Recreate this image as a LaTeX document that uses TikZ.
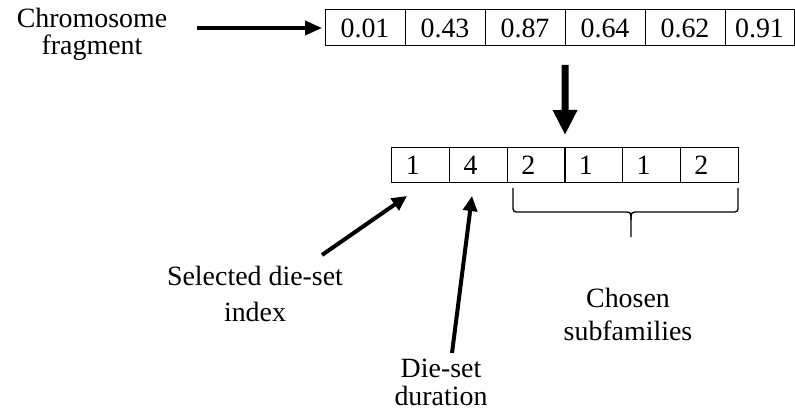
\documentclass[tikz,border=0pt]{standalone}
\usepackage{fontspec}
\setmainfont{Liberation Serif}
\usetikzlibrary{arrows.meta}
\begin{document}
\begin{tikzpicture}[x=1bp,y=1bp,
	cell/.style={draw,line width=1bp,minimum width=80bp,minimum height=36bp,inner sep=0pt,outer sep=0pt,font=\fontsize{28}{30}\selectfont},
	gene/.style={draw,line width=1bp,minimum height=35bp,inner ysep=0pt,inner xsep=14bp,text width=29.67bp,align=left,outer sep=0pt,font=\fontsize{28}{30}\selectfont},
	txt/.style={align=center,inner sep=0pt,anchor=base},
	feed/.style={-{Triangle[length=17bp,width=14bp]},line width=3.5bp},
	decode/.style={-{Triangle[length=25bp,width=23bp]},line width=7bp},
	point/.style={-{Triangle[length=15bp,width=14bp]},line width=4bp},
	brace/.style={line width=1.3bp}]
	\useasboundingbox (0,0) rectangle (795,413);
	%% chromosome fragment
	\node (f1) at (365bp,385bp) [cell] {0.01};
	\node (f2) at (445bp,385bp) [cell] {0.43};
	\node (f3) at (525bp,385bp) [cell] {0.87};
	\node (f4) at (605bp,385bp) [cell] {0.64};
	\node (f5) at (685bp,385bp) [cell] {0.62};
	\node (f6) at (759.5bp,385bp) [cell,minimum width=69bp] {0.91};
	%% decoded genes
	\node (d1) at (420.8bp,247.5bp) [gene] {1};
	\node (d2) at (478.5bp,247.5bp) [gene] {4};
	\node (d3) at (536.2bp,247.5bp) [gene] {2};
	\node (d4) at (593.8bp,247.5bp) [gene] {1};
	\node (d5) at (651.5bp,247.5bp) [gene] {1};
	\node (d6) at (709.2bp,247.5bp) [gene] {2};
	%% texts (base = last line)
	\node (chrom) at (92bp,358bp) [txt,font=\fontsize{28}{28}\selectfont] {Chromosome\\fragment};
	\node (sel) at (255bp,92bp) [txt,font=\fontsize{28}{36}\selectfont] {Selected die-set\\index};
	\node (dur) at (441bp,8bp) [txt,font=\fontsize{28}{28}\selectfont] {Die-set\\duration};
	\node (chosen) at (628bp,73bp) [txt,font=\fontsize{28}{33}\selectfont] {Chosen\\subfamilies};
	\coordinate (chromTail) at (197bp,385bp);
	\coordinate (selTail) at (322bp,158bp);
	\coordinate (selTip) at (407bp,217bp);
	\coordinate (durTail) at (452bp,60bp);
	\coordinate (durTip) at (472bp,217bp);
	%% arrows
	\draw [feed,shorten >=3bp] (chromTail) -- (f1);
	\draw [decode,shorten <=19bp,shorten >=13bp] (f3.south east) -- (d3.north east);
	\draw [point] (selTail) -- (selTip);
	\draw [point] (durTail) -- (durTip);
	%% brace under subfamilies
	\draw [brace] (513bp,225bp) -- (513bp,208bp) .. controls (513bp,201bp) .. (520bp,201bp) -- (623bp,201bp) .. controls (631bp,201bp) .. (631bp,193bp) -- (631bp,176bp);
	\draw [brace] (738bp,225bp) -- (738bp,208bp) .. controls (738bp,201bp) .. (731bp,201bp) -- (639bp,201bp) .. controls (631bp,201bp) .. (631bp,193bp);
	%
\end{tikzpicture}
\end{document}
